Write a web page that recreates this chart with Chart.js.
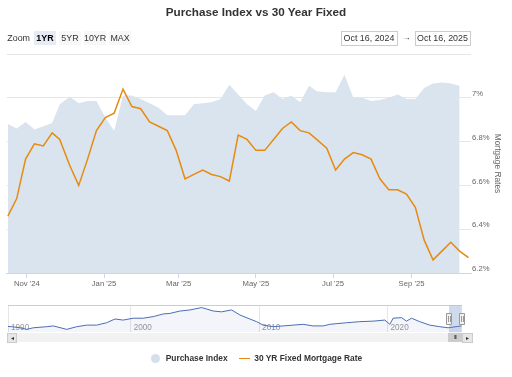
<!DOCTYPE html>
<html>
<head>
<meta charset="utf-8">
<script src="https://cdn.jsdelivr.net/npm/chart.js@4.4.0/dist/chart.umd.min.js"></script>
<style>
  body { margin: 0; background: #fff; font-family: "Liberation Sans", Arial, sans-serif; }
  #wrap { position: relative; width: 512px; height: 377px; overflow: hidden; background: #fff; }
  .abs { position: absolute; white-space: nowrap; }
  #title { left: 0; top: 4.6px; width: 512px; text-align: center; font-weight: bold; font-size: 11.7px; line-height: 14px; color: #333; }
  .zlabel { left: 7.3px; top: 31px; font-size: 8.9px; line-height: 14px; color: #333; }
  .btn { top: 31px; width: 22px; height: 14px; line-height: 14px; font-size: 8.9px; text-align: center; color: #333; background: #f7f7f7; }
  .btn.on { background: #e6ebf5; color: #000; font-weight: bold; }
  .date { top: 30.5px; height: 13px; line-height: 13px; border: 1px solid #cccccc; font-size: 8.9px; text-align: center; color: #333; }
  #main { position: absolute; left: 0; top: 0; }
  #nav { position: absolute; left: 0; top: 300px; }
  .leg { top: 353.4px; font-size: 8.4px; line-height: 10px; font-weight: bold; color: #333; }
</style>
</head>
<body>
<div id="wrap">
  <canvas id="main" width="512" height="300"></canvas>
  <canvas id="nav" width="512" height="50"></canvas>

  <div id="title" class="abs">Purchase Index vs 30 Year Fixed</div>
  <div class="abs zlabel">Zoom</div>
  <div class="abs btn on" style="left:34px">1YR</div>
  <div class="abs btn" style="left:59px">5YR</div>
  <div class="abs btn" style="left:84px">10YR</div>
  <div class="abs btn" style="left:109px">MAX</div>
  <div class="abs date" style="left:340.5px;width:55px">Oct 16, 2024</div>
  <div class="abs" style="left:402.5px;top:31px;font-size:8px;line-height:14px;color:#333">&#8594;</div>
  <div class="abs date" style="left:414.5px;width:54px">Oct 16, 2025</div>

  <!-- scrollbar under the navigator -->
  <div class="abs" style="left:7px;top:332.5px;width:465px;height:9.5px;background:#f2f2f2"></div>
  <div class="abs" style="left:7px;top:332.5px;width:8px;height:8.5px;background:#e6e6e6;border:1px solid #cccccc;font-size:6px;line-height:8.5px;text-align:center;color:#333">&#9666;</div>
  <div class="abs" style="left:448px;top:332.5px;width:14px;height:9.5px;background:#cccccc;font-size:6px;line-height:9.5px;text-align:center;color:#333;letter-spacing:-1px">III</div>
  <div class="abs" style="left:462px;top:332.5px;width:9px;height:8.5px;background:#e6e6e6;border:1px solid #cccccc;font-size:6px;line-height:8.5px;text-align:center;color:#333">&#9656;</div>

  <!-- legend -->
  <div class="abs" style="left:150.5px;top:353.8px;width:9px;height:9px;border-radius:50%;background:#d3dfea"></div>
  <div class="abs leg" style="left:165.7px">Purchase Index</div>
  <div class="abs" style="left:239.3px;top:357.5px;width:11px;height:1.6px;background:#e88a10"></div>
  <div class="abs leg" style="left:254.3px">30 YR Fixed Mortgage Rate</div>
</div>

<script>
// weekly observation dates (Thursdays)
const rateDates = [
  '2024-10-17', '2024-10-24', '2024-10-31', '2024-11-07', '2024-11-14', '2024-11-21', '2024-11-27',
  '2024-12-05', '2024-12-12', '2024-12-19', '2024-12-26', '2025-01-02', '2025-01-09', '2025-01-16',
  '2025-01-23', '2025-01-30', '2025-02-06', '2025-02-13', '2025-02-20', '2025-02-27', '2025-03-06',
  '2025-03-13', '2025-03-20', '2025-03-27', '2025-04-03', '2025-04-10', '2025-04-17', '2025-04-24',
  '2025-05-01', '2025-05-08', '2025-05-15', '2025-05-22', '2025-05-29', '2025-06-05', '2025-06-12',
  '2025-06-18', '2025-06-26', '2025-07-03', '2025-07-10', '2025-07-17', '2025-07-24', '2025-07-31',
  '2025-08-07', '2025-08-14', '2025-08-21', '2025-08-28', '2025-09-04', '2025-09-11', '2025-09-18',
  '2025-09-25', '2025-10-02', '2025-10-09', '2025-10-16'
];

// 30 YR fixed mortgage rate, %
const mortgageRate = [
  6.46, 6.54, 6.72, 6.79, 6.78, 6.84, 6.81, 6.69, 6.60, 6.72, 6.85, 6.91, 6.93, 7.04,
  6.96, 6.95, 6.89, 6.87, 6.85, 6.76, 6.63, 6.65, 6.67, 6.65, 6.64, 6.62, 6.83, 6.81,
  6.76, 6.76, 6.81, 6.86, 6.89, 6.85, 6.84, 6.81, 6.77, 6.67, 6.72, 6.75, 6.74, 6.72,
  6.63, 6.58, 6.58, 6.56, 6.50, 6.35, 6.26, 6.30, 6.34, 6.30, 6.27
];

// purchase index (one week shorter than the rate series)
const purchaseIndex = [
  136, 132, 138, 131, 134, 137, 154, 161, 155, 157, 157, 142, 130, 162,
  162, 159, 155, 151, 144, 144, 144, 154, 155, 156, 159, 172, 163, 154,
  148, 162, 165, 159, 162, 156, 171, 166, 165, 165, 181, 160, 160, 157,
  158, 160, 163, 159, 159, 169, 173, 174, 173, 171
];

const monthTicks = ['2024-11-01', '2025-01-01', '2025-03-01', '2025-05-01', '2025-07-01', '2025-09-01'];
const monthLabels = ["Nov '24", "Jan '25", "Mar '25", "May '25", "Jul '25", "Sep '25"];

// navigator: long history of the index (relative height)
const navYears = [
  1990.45, 1990.74, 1991.39, 1991.91, 1992.42, 1993.46, 1993.98, 1995.02, 1995.80, 1996.58,
  1997.35, 1998.13, 1998.78, 1999.42, 2000.20, 2000.98, 2001.76, 2002.54, 2003.06, 2003.84,
  2004.61, 2005.53, 2006.43, 2007.08, 2007.86, 2008.51, 2009.28, 2009.81, 2010.32, 2011.10,
  2011.88, 2012.65, 2013.43, 2014.21, 2014.99, 2015.51, 2016.81, 2017.84, 2018.88, 2019.79,
  2020.18, 2020.44, 2021.09, 2021.48, 2021.87, 2022.51, 2023.29, 2024.07, 2024.72, 2025.76
];
const navValues = [
  22, 21, 17, 11, 17, 21, 24, 11, 21, 27,
  27, 36, 50, 46, 53, 53, 59, 69, 71, 80,
  84, 93, 80, 77, 84, 65, 50, 40, 27, 21,
  24, 27, 30, 24, 24, 30, 36, 40, 42, 46,
  30, 53, 55, 42, 53, 40, 27, 21, 17, 24
];
const navTickYears = [1990, 2000, 2010, 2020];
const navTickLabels = ['1990', '2000', '2010', '2020'];
const rangeFrom = 2024.79;
const rangeTo = 2025.79;

Chart.defaults.font.family = '"Liberation Sans", Arial, sans-serif';

const day0 = Date.UTC(2024, 9, 16);
const toDay = s => (Date.parse(s + 'T00:00:00Z') - day0) / 86400000;

new Chart(document.getElementById('main'), {
  type: 'line',
  data: {
    datasets: [{
      label: '30 YR Fixed Mortgage Rate',
      data: rateDates.map((d, i) => ({ x: toDay(d), y: mortgageRate[i] })),
      borderColor: '#e88a10',
      borderWidth: 1.5,
      pointRadius: 0,
      tension: 0,
      fill: false,
      yAxisID: 'y',
      order: 1
    },
    {
      label: 'Purchase Index',
      data: purchaseIndex.map((v, i) => ({ x: toDay(rateDates[i]), y: v })),
      borderColor: '#d9e4ee',
      borderWidth: 0,
      backgroundColor: '#d9e4ee',
      fill: 'origin',
      pointRadius: 0,
      tension: 0,
      yAxisID: 'y2',
      order: 2
    }]
  },
  options: {
    responsive: false,
    animation: false,
    layout: { padding: { left: 6.6, right: 0, top: 54, bottom: 0 } },
    plugins: { legend: { display: false }, tooltip: { enabled: false } },
    scales: {
      x: {
        type: 'linear',
        min: 0,
        max: 367,
        afterBuildTicks: s => { s.ticks = monthTicks.map(d => ({ value: toDay(d) })); },
        afterFit: s => { s.height = 27; },
        ticks: {
          autoSkip: false,
          maxRotation: 0,
          padding: 1,
          color: '#666666',
          font: { size: 7.7 },
          callback: (v, i) => monthLabels[i]
        },
        grid: { drawOnChartArea: false, drawTicks: true, tickLength: 5, color: '#ccd6eb' },
        border: { color: '#ccd6eb' }
      },
      y: {
        position: 'right',
        min: 6.2,
        max: 7.2,
        afterFit: s => { s.width = 41; },
        ticks: {
          stepSize: 0.2,
          padding: 1,
          labelOffset: -4,
          color: '#666666',
          font: { size: 7.7 },
          callback: v => (v > 7.1 ? '' : Math.round(v * 10) / 10 + '%')
        },
        grid: { color: '#e6e6e6', drawTicks: false },
        border: { display: false },
        title: {
          display: true,
          text: 'Mortgage Rates',
          color: '#666666',
          font: { size: 8.4 },
          padding: { top: 10 }
        }
      },
      y2: { display: false, min: 0, max: 200 }
    }
  }
});

const navMask = {
  id: 'navMask',
  afterDatasetsDraw(chart) {
    const { ctx, chartArea, scales } = chart;
    const x0 = scales.x.getPixelForValue(rangeFrom);
    const x1 = scales.x.getPixelForValue(rangeTo);
    ctx.save();
    ctx.fillStyle = 'rgba(102,133,194,0.3)';
    ctx.fillRect(x0, chartArea.top, x1 - x0, chartArea.bottom - chartArea.top);
    const mid = (chartArea.top + chartArea.bottom) / 2;
    [x0, x1].forEach(x => {
      ctx.fillStyle = '#f2f2f2';
      ctx.strokeStyle = '#999999';
      ctx.lineWidth = 1;
      ctx.beginPath();
      ctx.rect(Math.round(x - 3) + 0.5, Math.round(mid - 6) + 0.5, 5, 11);
      ctx.fill();
      ctx.stroke();
      ctx.beginPath();
      ctx.moveTo(Math.round(x - 1) + 0.5, mid - 3);
      ctx.lineTo(Math.round(x - 1) + 0.5, mid + 3);
      ctx.moveTo(Math.round(x + 1) + 0.5, mid - 3);
      ctx.lineTo(Math.round(x + 1) + 0.5, mid + 3);
      ctx.stroke();
    });
    ctx.restore();
  }
};

new Chart(document.getElementById('nav'), {
  type: 'line',
  data: {
    datasets: [{
      label: 'navigator',
      data: navYears.map((yr, i) => ({ x: yr, y: navValues[i] })),
      borderColor: '#4a6eb5',
      borderWidth: 1,
      backgroundColor: 'rgba(51,92,173,0.06)',
      fill: 'origin',
      pointRadius: 0,
      tension: 0
    }]
  },
  options: {
    responsive: false,
    animation: false,
    layout: { padding: { left: 8, right: 50, top: 5.7, bottom: 0 } },
    plugins: { legend: { display: false }, tooltip: { enabled: false } },
    scales: {
      x: {
        type: 'linear',
        min: 1990.45,
        max: 2025.8,
        afterBuildTicks: s => { s.ticks = navTickYears.map(y => ({ value: Math.max(y, 1990.45) })); },
        afterFit: s => { s.height = 17.7; },
        ticks: {
          autoSkip: false,
          maxRotation: 0,
          align: 'start',
          mirror: true,
          labelOffset: 3,
          padding: 0,
          color: '#999999',
          font: { size: 8.2 },
          callback: (v, i) => navTickLabels[i]
        },
        grid: { color: '#e6e6e6', drawTicks: false },
        border: { display: false }
      },
      y: {
        min: 0,
        max: 100,
        afterBuildTicks: s => { s.ticks = [{ value: 100 }]; },
        afterFit: s => { s.width = 0; },
        ticks: { display: false },
        grid: { color: '#cccccc', drawTicks: false },
        border: { display: false }
      }
    }
  },
  plugins: [navMask]
});
</script>
</body>
</html>
